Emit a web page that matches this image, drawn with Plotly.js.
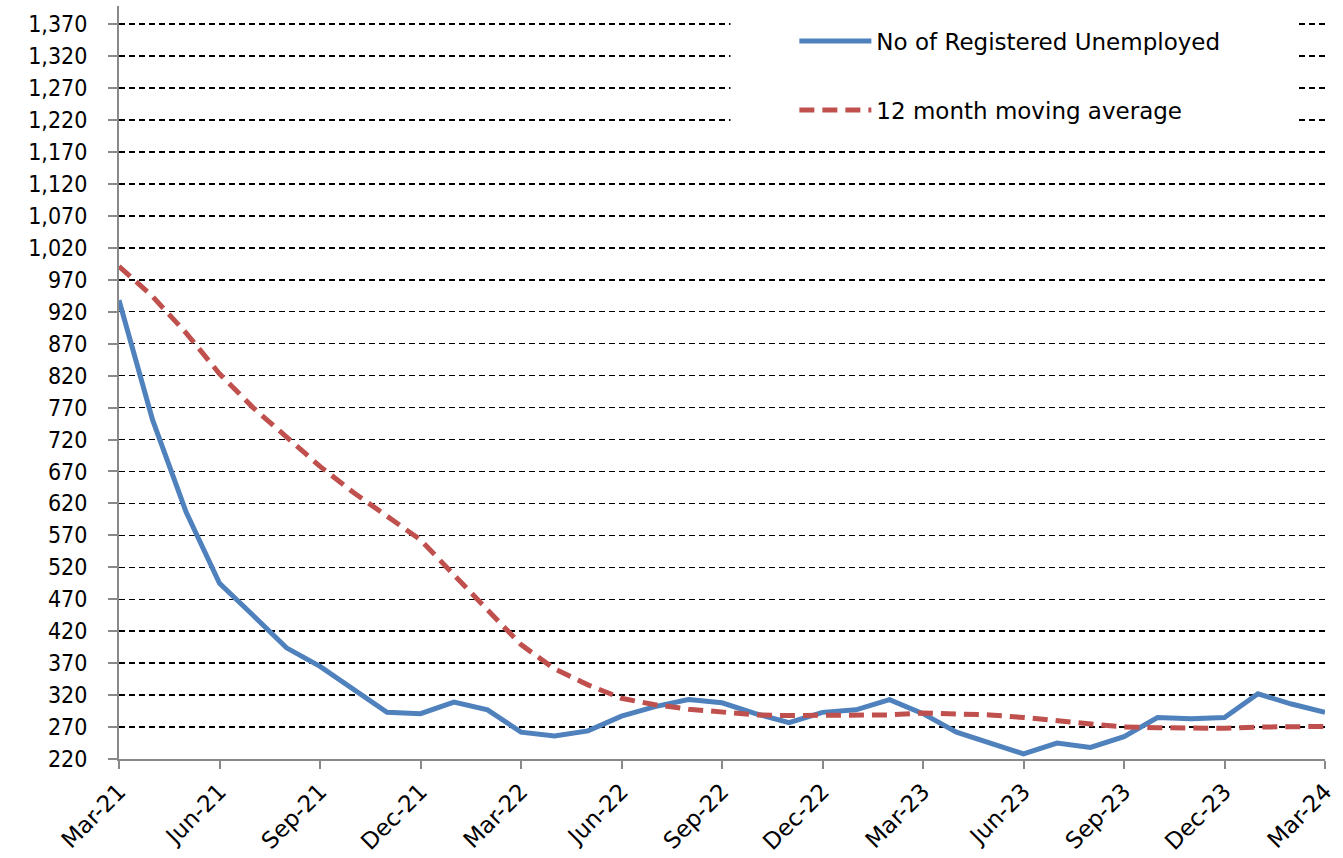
<!DOCTYPE html>
<html>
<head>
<meta charset="utf-8">
<script src="https://cdn.plot.ly/plotly-3.0.1.min.js"></script>
<style>html,body{margin:0;padding:0;background:#fff;}#chart{width:1343px;height:858px;}</style>
</head>
<body>
<div id="chart"></div>
<script>
const months = ["Mar-21","Apr-21","May-21","Jun-21","Jul-21","Aug-21","Sep-21","Oct-21","Nov-21","Dec-21",
  "Jan-22","Feb-22","Mar-22","Apr-22","May-22","Jun-22","Jul-22","Aug-22","Sep-22","Oct-22","Nov-22","Dec-22",
  "Jan-23","Feb-23","Mar-23","Apr-23","May-23","Jun-23","Jul-23","Aug-23","Sep-23","Oct-23","Nov-23","Dec-23",
  "Jan-24","Feb-24","Mar-24"];
const registeredUnemployed = [938,751,607,495,445,394,365,329,293,291,
  309,297,262,256,264,287,302,313,308,291,277,293,
  297,313,291,262,246,228,245,238,255,285,283,285,
  322,306,293];
const movingAverage = [991,944,887,823,770,723,678,637,600,563,
  508,454,399,361,336,315,305,298,293,289,288,288,
  288,289,292,291,289,285,280,275,270,269,269,268,
  270,271,271];
const tickLabels = ["Mar-21","Jun-21","Sep-21","Dec-21","Mar-22","Jun-22","Sep-22","Dec-22","Mar-23","Jun-23","Sep-23","Dec-23","Mar-24"];
const seriesNames = ["No of Registered Unemployed","12 month moving average"];

const FONT = "Tahoma, 'DejaVu Sans Condensed', 'Liberation Sans', sans-serif";
const FONT_WIDE = "Tahoma, 'DejaVu Sans', 'Liberation Sans', sans-serif";

const traces = [
  {x: months, y: registeredUnemployed, name: seriesNames[0], type: 'scatter', mode: 'lines',
   line: {color: '#4F81BD', width: 5}, legendgroup: 'a'},
  {x: months, y: movingAverage, name: seriesNames[1], type: 'scatter', mode: 'lines',
   line: {color: '#C0504D', width: 5, dash: '15px,8px'}, legendgroup: 'b'}
];

const layout = {
  width: 1343, height: 858,
  margin: {l: 119, r: 18, t: 6, b: 99},
  paper_bgcolor: '#fff', plot_bgcolor: '#fff',
  font: {family: FONT, size: 23, color: '#000'},
  showlegend: true,
  legend: {x: 0.56, y: 0.982, xanchor: 'left', yanchor: 'top', bgcolor: 'rgba(0,0,0,0)',
           font: {family: FONT_WIDE, size: 23, color: '#000'}, tracegroupgap: 36, itemwidth: 72},
  xaxis: {type: 'category', range: [0, 36], tickmode: 'array', tickvals: tickLabels, ticktext: tickLabels,
          tickangle: -45, ticks: 'outside', ticklen: 8, tickwidth: 2, tickcolor: '#898989',
          showline: true, linecolor: '#898989', linewidth: 2, showgrid: false, zeroline: false,
          tickfont: {family: FONT_WIDE, size: 23, color: '#000'}},
  yaxis: {range: [220, 1398.5], tick0: 220, dtick: 50, tickformat: ',d',
          ticks: 'outside', ticklen: 9, tickwidth: 2, tickcolor: '#898989',
          showline: true, linecolor: '#898989', linewidth: 2,
          showgrid: true, gridcolor: '#000', gridwidth: 1.5, griddash: '6px,4px', zeroline: false,
          ticklabelstandoff: 16, tickfont: {family: FONT, size: 23, color: '#000'}},
  shapes: [
    {type: 'rect', xref: 'paper', yref: 'paper', x0: 0.507, x1: 0.976, y0: 0.832, y1: 1,
     fillcolor: '#fff', line: {width: 0}, layer: 'above'}
  ]
};

Plotly.newPlot('chart', traces, layout, {displayModeBar: false, staticPlot: true});
</script>
</body>
</html>
